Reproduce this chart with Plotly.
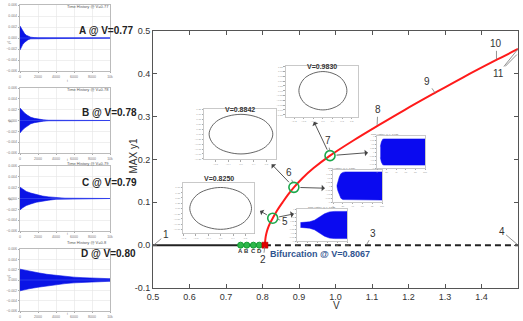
import plotly.graph_objects as go

W, H = 523, 321

# ---------------- data ----------------
stable_v = [0.5, 0.8067]
stable_y = [0.0, 0.0]
unstable_v = [0.8067, 1.5]
unstable_y = [0.0, 0.0]
lco_v = [0.8067, 0.8075, 0.809, 0.812, 0.816, 0.821, 0.828, 0.84, 0.855, 0.87, 0.886,
         0.91, 0.94, 0.985, 1.05, 1.116, 1.19, 1.267, 1.35, 1.442, 1.5]
lco_y = [0.0, 0.011, 0.021, 0.032, 0.042, 0.052, 0.063, 0.081, 0.100, 0.118, 0.135,
         0.157, 0.180, 0.209, 0.245, 0.279, 0.316, 0.353, 0.392, 0.433, 0.458]
abcd_v = [0.740, 0.757, 0.775, 0.791]
abcd_y = [0.0, 0.0, 0.0, 0.0]
abcd_lab = ["A", "B", "C", "D"]
bif_v = [0.8067]
bif_y = [0.0]
sel_v = [0.828, 0.886, 0.985]
sel_y = [0.063, 0.135, 0.209]
main_xticks = [0.5, 0.6, 0.7, 0.8, 0.9, 1.0, 1.1, 1.2, 1.3, 1.4, 1.5]
main_yticks = [-0.1, 0.0, 0.1, 0.2, 0.3, 0.4, 0.5]

# decaying time histories (left panels): envelope amplitude vs t
hist_names = ["A @ V=0.77", "B @ V=0.78", "C @ V=0.79", "D @ V=0.80"]
hist_titles = ["Time History @ V=0.77", "Time History @ V=0.78",
               "Time History @ V=0.79", "Time History @ V=0.8"]
hist_t = [
    [0, 150, 300, 500, 700, 900, 1200, 1600, 2000, 10000],
    [0, 200, 500, 800, 1200, 1600, 2000, 2600, 3200, 10000],
    [0, 300, 700, 1200, 1800, 2500, 3200, 4000, 5000, 10000],
    [0, 500, 1000, 2000, 3000, 4000, 5000, 6000, 7000, 8000, 9000, 10000],
]
hist_amp = [
    [0.0022, 0.0017, 0.0012, 0.0008, 0.0005, 0.0003, 0.00015, 0.00007, 0.00003, 0.0],
    [0.0023, 0.0019, 0.0014, 0.0010, 0.0006, 0.0004, 0.00025, 0.00012, 0.00005, 0.0],
    [0.0021, 0.0017, 0.0013, 0.0010, 0.0007, 0.00045, 0.0003, 0.00015, 0.00006, 0.0],
    [0.0021, 0.0019, 0.0017, 0.0014, 0.0011, 0.0009, 0.0007, 0.00055, 0.00045, 0.00035, 0.0003, 0.00025],
]
hist_yticks = [-0.006, -0.004, -0.002, 0.0, 0.002, 0.004, 0.006]
hist_xticks = [0, 2000, 4000, 6000, 8000, 10000]

# growing time histories (insets near points 5, 6, 7), normalised amplitude
grow_titles = ["Time History @ V=0.825", "Time History @ V=0.884", "Time History @ V=0.983"]
grow_t = [
    [700, 1500, 2500, 3500, 4500, 5500, 6500, 7500, 10000],
    [800, 1000, 1300, 1600, 2000, 2500, 10000],
    [700, 900, 1200, 1500, 10000],
]
grow_amp = [
    [0.15, 0.16, 0.20, 0.30, 0.50, 0.70, 0.82, 0.85, 0.85],
    [0.03, 0.30, 0.58, 0.76, 0.85, 0.88, 0.88],
    [0.35, 0.62, 0.80, 0.82, 0.82],
]

# limit cycles (phase plane), normalised
cyc_x = [1.0, 0.92, 0.71, 0.38, 0.0, -0.38, -0.71, -0.92, -1.0, -0.92, -0.71, -0.38, 0.0, 0.38, 0.71, 0.92, 1.0]
cyc_y = [0.0, 0.38, 0.71, 0.92, 1.0, 0.92, 0.71, 0.38, 0.0, -0.38, -0.71, -0.92, -1.0, -0.92, -0.71, -0.38, 0.0]
cyc_titles = ["V=0.8250", "V=0.8842", "V=0.9830"]


def px(x):
    return x / W


def py(y):
    return (H - y) / H


fig = go.Figure()
layout = dict(width=W, height=H, margin=dict(l=0, r=0, t=0, b=0, pad=0, autoexpand=False),
              paper_bgcolor="white", plot_bgcolor="white", showlegend=False,
              font=dict(family="Liberation Sans, Arial, sans-serif", color="#333"))
annotations = []

# ---------------- main axes ----------------
layout["xaxis"] = dict(domain=[px(153), px(518)], range=[0.5, 1.5], tickvals=main_xticks,
                       ticktext=[f"{v:.1f}" for v in main_xticks], ticks="inside", ticklen=4,
                       tickcolor="#555", showline=True, linecolor="#555", linewidth=1,
                       mirror="allticks", showgrid=False, zeroline=False, automargin=False,
                       tickfont=dict(size=9, color="#333"), anchor="y")
layout["yaxis"] = dict(domain=[py(288), py(31)], range=[-0.1, 0.5], tickvals=main_yticks,
                       ticktext=[f"{v:.1f}" for v in main_yticks], ticks="inside", ticklen=4,
                       tickcolor="#555", showline=True, linecolor="#555", linewidth=1,
                       mirror="allticks", showgrid=False, zeroline=False, automargin=False,
                       tickfont=dict(size=9, color="#333"), anchor="x")

fig.add_trace(go.Scatter(x=stable_v, y=stable_y, mode="lines", line=dict(color="#222", width=2),
                         xaxis="x", yaxis="y"))
fig.add_trace(go.Scatter(x=unstable_v, y=unstable_y, mode="lines",
                         line=dict(color="#222", width=2, dash="6px,4px"), xaxis="x", yaxis="y"))
fig.add_trace(go.Scatter(x=lco_v, y=lco_y, mode="lines", line=dict(color="#ff1a1a", width=2, shape="spline"),
                         xaxis="x", yaxis="y"))
fig.add_trace(go.Scatter(x=abcd_v, y=abcd_y, mode="markers",
                         marker=dict(size=6, color="#2db84a", line=dict(color="#139a33", width=1)),
                         xaxis="x", yaxis="y"))
fig.add_trace(go.Scatter(x=bif_v, y=bif_y, mode="markers",
                         marker=dict(size=6, symbol="square", color="#e00000", line=dict(color="#a00", width=0.5)),
                         xaxis="x", yaxis="y"))
fig.add_trace(go.Scatter(x=sel_v, y=sel_y, mode="markers",
                         marker=dict(size=10, color="rgba(0,0,0,0)", line=dict(color="#1aa84a", width=1.6)),
                         xaxis="x", yaxis="y"))

for v, lab in zip(abcd_v, abcd_lab):
    annotations.append(dict(x=v, y=-0.013, xref="x", yref="y", text=f"<b>{lab}</b>", showarrow=False,
                            font=dict(size=6, color="#333")))

annotations.append(dict(x=0.815, y=-0.021, xref="x", yref="y", text="<b>Bifurcation @ V=0.8067</b>",
                        xanchor="left", showarrow=False, font=dict(size=9, color="#2f5490")))

annotations.append(dict(x=px(336), y=py(312), xref="paper", yref="paper", text="V", showarrow=False,
                        font=dict(size=10, color="#333"), borderpad=0))
annotations.append(dict(x=px(125), y=py(156), xref="paper", yref="paper", text="MAX y1", textangle=-90,
                        showarrow=False, font=dict(size=10, color="#333")))

# numbered labels with leader lines: (text, text_x, text_y, point_x, point_y)
labels = [
    ("1", 0.535, 0.024, 0.503, 0.001),
    ("2", 0.802, -0.034, 0.806, -0.004),
    ("3", 1.103, 0.028, 1.085, 0.001),
    ("4", 1.455, 0.033, 1.499, 0.001),
    ("5", 0.861, 0.055, 0.840, 0.061),
    ("6", 0.873, 0.169, 0.883, 0.146),
    ("7", 0.980, 0.244, 0.984, 0.220),
    ("8", 1.116, 0.316, 1.114, 0.281),
    ("9", 1.252, 0.382, 1.273, 0.355),
    ("10", 1.441, 0.470, 1.441, 0.434),
]
for t, tx, ty, x0, y0 in labels:
    annotations.append(dict(x=x0, y=y0, ax=tx, ay=ty, xref="x", yref="y", axref="x", ayref="y",
                            text=t, showarrow=True, arrowhead=0, arrowwidth=0.8, arrowcolor="#777",
                            font=dict(size=10, color="#333")))
for k, (x0, y0) in enumerate([(1.5, 0.458), (1.497, 0.445)]):
    annotations.append(dict(x=x0, y=y0, ax=1.446, ay=0.401, xref="x", yref="y", axref="x", ayref="y",
                            text="11", showarrow=True, arrowhead=0, arrowwidth=0.8, arrowcolor="#777",
                            font=dict(size=10, color="#333" if k == 0 else "rgba(0,0,0,0)")))

# arrows from selected points to insets
arrows = [
    (0.828, 0.063, 0.793, 0.080), (0.828, 0.063, 0.886, 0.073),
    (0.886, 0.135, 0.825, 0.189), (0.886, 0.135, 0.971, 0.133),
    (0.985, 0.209, 0.941, 0.288), (0.985, 0.209, 1.089, 0.216),
]
for x0, y0, x1, y1 in arrows:
    annotations.append(dict(x=x1, y=y1, ax=x0, ay=y0, xref="x", yref="y", axref="x", ayref="y",
                            text="", showarrow=True, arrowhead=1, arrowsize=1.2, arrowwidth=0.9,
                            arrowcolor="#444", startstandoff=5))

# ---------------- left panels ----------------
panel_y = [(5, 71), (88, 153), (166, 231), (249, 311)]
text_pos = [(77, 23), (80, 105), (80, 183), (79, 261)]
for i in range(4):
    n = i + 2
    xa, ya = f"x{n}", f"y{n}"
    top, bot = panel_y[i]
    layout[f"xaxis{n}"] = dict(domain=[px(20), px(110)], range=[0, 10000], tickvals=hist_xticks,
                               ticks="outside", ticklen=1.5, tickcolor="#aaa", showline=True,
                               linecolor="#aaa", linewidth=0.8, mirror=True, showgrid=True,
                               gridcolor="#e4e4e4", gridwidth=0.6, zeroline=False, automargin=False,
                               tickfont=dict(size=3.5, color="#777"), anchor=ya)
    layout[f"yaxis{n}"] = dict(domain=[py(bot), py(top)], range=[-0.006, 0.006], tickvals=hist_yticks,
                               ticktext=[f"{v:.3f}".replace("-", "\u2212") for v in hist_yticks],
                               ticks="outside", ticklen=1.5, tickcolor="#aaa", showline=True,
                               linecolor="#aaa", linewidth=0.8, mirror=True, showgrid=True,
                               gridcolor="#e4e4e4", gridwidth=0.6, zeroline=False, automargin=False,
                               tickfont=dict(size=3.5, color="#777"), anchor=xa)
    tt = hist_t[i]
    aa = hist_amp[i]
    fig.add_trace(go.Scatter(x=tt + tt[::-1], y=aa + [-a for a in aa[::-1]], fill="toself",
                             fillcolor="#0a14e6", mode="lines", line=dict(color="#0a14e6", width=0.6),
                             xaxis=xa, yaxis=ya))
    fig.add_trace(go.Scatter(x=[0, 10000], y=[0, 0], mode="lines", line=dict(color="#3344ee", width=0.8),
                             xaxis=xa, yaxis=ya))
    annotations.append(dict(x=px(65), y=py(top - 2.5), xref="paper", yref="paper", text=hist_titles[i],
                            showarrow=False, font=dict(size=4, color="#555")))
    annotations.append(dict(x=px(text_pos[i][0]), y=py(text_pos[i][1]), xref="paper", yref="paper",
                            text=f"<b>{hist_names[i]}</b>", showarrow=False, font=dict(size=10, color="#222")))
    annotations.append(dict(x=px(65), y=py(bot + 6.5), xref="paper", yref="paper", text="t",
                            showarrow=False, font=dict(size=3, color="#777")))
    annotations.append(dict(x=px(5), y=py((top + bot) / 2), xref="paper", yref="paper", text="y1",
                            textangle=-90, showarrow=False, font=dict(size=3, color="#777")))

# ---------------- limit-cycle insets ----------------
cyc_boxes = [(183, 254, 183.3, 233.5), (204, 276, 109, 159.3), (285.7, 357.7, 66, 117)]
cyc_xr = [[-1.22, 1.08], [-1.16, 1.10], [-1.55, 1.45]]
cyc_yr = [[-1.2, 1.2], [-1.27, 1.27], [-1.37, 1.29]]
for i in range(3):
    n = i + 6
    xa, ya = f"x{n}", f"y{n}"
    x0, x1, y0, y1 = cyc_boxes[i]
    layout[f"xaxis{n}"] = dict(domain=[px(x0), px(x1)], range=cyc_xr[i], dtick=0.4, ticks="outside",
                               ticklen=1.5, tickcolor="#aaa", showline=True, linecolor="#bbb",
                               linewidth=0.8, mirror=True, showgrid=False, zeroline=False, automargin=False,
                               tickfont=dict(size=2.5, color="#999"), tickformat=".1f", anchor=ya)
    layout[f"yaxis{n}"] = dict(domain=[py(y1), py(y0)], range=cyc_yr[i], dtick=0.25, ticks="outside",
                               ticklen=1.5, tickcolor="#aaa", showline=True, linecolor="#bbb",
                               linewidth=0.8, mirror=True, showgrid=False, zeroline=False, automargin=False,
                               tickfont=dict(size=2.5, color="#999"), tickformat=".2f", anchor=xa)
    fig.add_trace(go.Scatter(x=cyc_x, y=cyc_y, mode="lines", line=dict(color="#555", width=0.9, shape="spline"),
                             xaxis=xa, yaxis=ya))
    annotations.append(dict(x=px((x0 + x1) / 2), y=py(y0 - 5), xref="paper", yref="paper",
                            text=f"<b>{cyc_titles[i]}</b>", showarrow=False, font=dict(size=7, color="#333")))

# ---------------- growing time-history insets ----------------
grow_boxes = [(297, 347, 209, 241), (333, 382, 170, 202), (377, 425, 136, 168)]
for i in range(3):
    n = i + 9
    xa, ya = f"x{n}", f"y{n}"
    x0, x1, y0, y1 = grow_boxes[i]
    layout[f"xaxis{n}"] = dict(domain=[px(x0), px(x1)], range=[0, 10000], dtick=2000, ticks="outside",
                               ticklen=1.2, tickcolor="#aaa", showline=True, linecolor="#bbb",
                               linewidth=0.8, mirror=True, showgrid=False, zeroline=False, automargin=False,
                               tickfont=dict(size=2.5, color="#999"), anchor=ya)
    layout[f"yaxis{n}"] = dict(domain=[py(y1), py(y0)], range=[-1, 1], dtick=0.25, ticks="outside",
                               ticklen=1.2, tickcolor="#aaa", showline=True, linecolor="#bbb",
                               linewidth=0.8, mirror=True, showgrid=False, zeroline=False, automargin=False,
                               showticklabels=True, tickfont=dict(size=2.2, color="#999"), anchor=xa)
    tt = grow_t[i]
    aa = grow_amp[i]
    fig.add_trace(go.Scatter(x=tt + tt[::-1], y=aa + [-a for a in aa[::-1]], fill="toself",
                             fillcolor="#0a0af0", mode="lines", line=dict(color="#0a0af0", width=0.5),
                             xaxis=xa, yaxis=ya))
    annotations.append(dict(x=px((x0 + x1) / 2), y=py(y0 - 2), xref="paper", yref="paper",
                            text=grow_titles[i], showarrow=False, font=dict(size=2.5, color="#666")))

layout["annotations"] = annotations
fig.update_layout(**layout)
fig.write_html("out.html", config={"displayModeBar": False, "staticPlot": True},
               post_script="document.body.style.margin='0';document.body.style.overflow='hidden';")
